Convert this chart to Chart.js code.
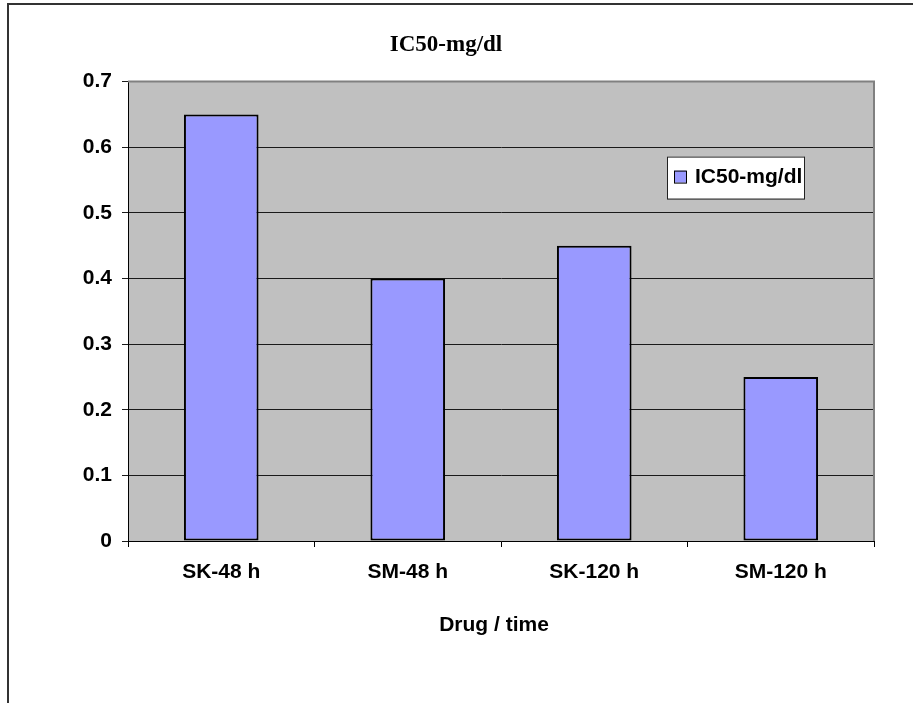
<!DOCTYPE html>
<html>
<head>
<meta charset="utf-8">
<script src="https://cdn.jsdelivr.net/npm/chart.js@4/dist/chart.umd.min.js"></script>
<style>
  html, body { margin: 0; padding: 0; background: #fff; }
  #wrap { width: 913px; height: 703px; }
</style>
</head>
<body>
<div id="wrap"><canvas id="myChart" width="913" height="703"></canvas></div>
<script>
const categories = ["SK-48 h", "SM-48 h", "SK-120 h", "SM-120 h"];
const values = [0.65, 0.40, 0.45, 0.25];
const seriesName = "IC50-mg/dl";
const chartTitle = "IC50-mg/dl";
const xTitle = "Drug / time";

const barFill = "#9999FF";
const sansFamily = "'Liberation Sans', Arial, sans-serif";
const sansBold = { family: sansFamily, size: 21, weight: "bold" };

// frame round the whole chart + grey plot area
const backdrop = {
  id: "backdrop",
  afterLayout(chart) {
    // Excel put the title a bit right of the plot centre
    chart.titleBlock.left += 9;
    chart.titleBlock.right += 9;
  },
  beforeDraw(chart) {
    const ctx = chart.ctx;
    const a = chart.chartArea;
    ctx.save();
    ctx.fillStyle = "#fff";
    ctx.fillRect(0, 0, chart.width, chart.height);
    ctx.strokeStyle = "#333";
    ctx.lineWidth = 2;
    ctx.strokeRect(8, 4, chart.width + 20, chart.height + 20);
    ctx.fillStyle = "#C0C0C0";
    ctx.fillRect(a.left, a.top, a.right - a.left, a.bottom - a.top);
    ctx.restore();
  },
  beforeDatasetsDraw(chart) {
    const ctx = chart.ctx;
    const a = chart.chartArea;
    ctx.save();
    ctx.strokeStyle = "#808080";
    ctx.lineWidth = 2;
    ctx.beginPath();
    ctx.moveTo(a.left, a.top);
    ctx.lineTo(a.right, a.top);
    ctx.lineTo(a.right, a.bottom);
    ctx.stroke();
    ctx.restore();
  },
  afterDraw(chart) {
    // x axis title, sits a little left of the plot centre
    const ctx = chart.ctx;
    const a = chart.chartArea;
    ctx.save();
    ctx.fillStyle = "#000";
    ctx.font = "bold 21px " + sansFamily;
    ctx.textAlign = "center";
    ctx.textBaseline = "middle";
    ctx.fillText(xTitle, (a.left + a.right) / 2 - 7, a.bottom + 84);
    ctx.restore();
  }
};

// Excel-like legend box sitting inside the plot
const boxLegend = {
  id: "boxLegend",
  afterDraw(chart) {
    const ctx = chart.ctx;
    const a = chart.chartArea;
    const ds = chart.data.datasets[0];
    const x = a.right - 207, y = a.top + 75, w = 137, h = 42;
    ctx.save();
    ctx.fillStyle = "#fff";
    ctx.fillRect(x, y, w, h);
    ctx.strokeStyle = "#222";
    ctx.lineWidth = 1;
    ctx.strokeRect(x + 0.5, y + 0.5, w, h);
    ctx.fillStyle = ds.backgroundColor;
    ctx.fillRect(x + 7, y + 14, 12, 12);
    ctx.strokeStyle = "#000";
    ctx.strokeRect(x + 7.5, y + 14.5, 12, 12);
    ctx.fillStyle = "#000";
    ctx.font = "bold 21px " + sansFamily;
    ctx.textBaseline = "middle";
    ctx.fillText(ds.label, x + 28, y + 21);
    ctx.restore();
  }
};

const ctx = document.getElementById("myChart").getContext("2d");
const myChart = new Chart(ctx, {
  type: "bar",
  data: {
    labels: categories,
    datasets: [
      {
        label: seriesName,
        data: values,
        backgroundColor: barFill,
        borderColor: "#000",
        borderWidth: 2,
        borderSkipped: false,
        barPercentage: 0.4,
        categoryPercentage: 1.0,
      },
    ],
  },
  options: {
    responsive: false,
    animation: false,
    layout: { padding: { left: 0, right: 39, top: 0, bottom: 0 } },
    plugins: {
      legend: { display: false },
      tooltip: { enabled: false },
      title: {
        display: true,
        text: chartTitle,
        color: "#000",
        font: { family: "'Liberation Serif', 'Times New Roman', serif", size: 23, weight: "bold" },
        padding: { top: 31, bottom: 23 },
      },
    },
    scales: {
      x: {
        afterFit: (scale) => { scale.height = 162; },
        grid: { offset: true, drawOnChartArea: false, color: "#000", tickLength: 6 },
        border: { color: "#000", width: 1 },
        ticks: { color: "#000", font: sansBold, padding: 13, maxRotation: 0 },
      },
      y: {
        min: 0,
        max: 0.7,
        afterFit: (scale) => { scale.width = 128; },
        grid: { color: "#1a1a1a", tickLength: 6 },
        border: { color: "#000", width: 1 },
        ticks: { stepSize: 0.1, color: "#000", font: sansBold, padding: 10 },
      },
    },
  },
  plugins: [backdrop, boxLegend],
});
</script>
</body>
</html>
